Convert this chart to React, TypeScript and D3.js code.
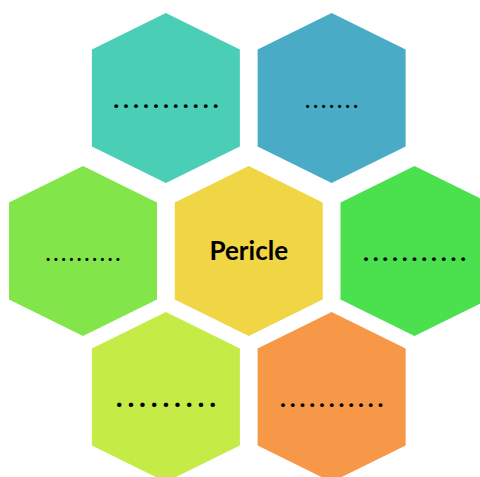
import React from "react";
import * as d3 from "d3";

const labels = ["...........", ".......", "..........", "Pericle", "...........", ".........", "..........."];
const colors = ["#4ACFB6", "#4AABC6", "#82E64A", "#F0D545", "#4AE04E", "#C4EB46", "#F79748"];
const gridCol = [1, 3, 0, 2, 4, 1, 3];
const gridRow = [0, 0, 1, 1, 1, 2, 2];
const dotSizes = [25, 20, 20, 0, 25, 29, 25];
const dotSpacing = [9.9, 7.9, 7.7, 0, 9.67, 11.6, 9.7];

const W = 480;
const H = 477;

export default function App() {
  const x = d3.scaleLinear().domain([0, 4]).range([83, 414.5]);
  const y = d3.scaleOrdinal<number, number>().domain([0, 1, 2]).range([98, 251, 397]);
  const hw = 74;
  const hh = 85;
  const sh = 48.5;
  const hexPts: [number, number][] = [
    [0, -hh],
    [hw, -sh],
    [hw, sh],
    [0, hh],
    [-hw, sh],
    [-hw, -sh],
  ];
  const line = d3.line().curve(d3.curveLinearClosed);
  const hexPath = line(hexPts) || "";

  return (
    <svg
      width={W}
      height={H}
      style={{ position: "absolute", left: 0, top: 0, background: "#fff" }}
    >
      {labels.map((lab, i) => {
        const cx = x(gridCol[i]);
        const cy = y(gridRow[i]);
        const isMain = lab === "Pericle";
        const n = lab.length;
        return (
          <g key={i} transform={`translate(${cx},${cy})`}>
            <path d={hexPath} fill={colors[i]} />
            {isMain ? (
              <text
                x={0}
                y={9}
                textAnchor="middle"
                fontFamily="Lato, 'Open Sans', sans-serif"
                fontWeight={700}
                fontSize={26}
                fill="#000"
              >
                {lab}
              </text>
            ) : (
              <text
                x={0}
                y={9.5}
                textAnchor="middle"
                fontFamily="Lato, 'Open Sans', sans-serif"
                fontWeight={700}
                fontSize={dotSizes[i]}
                textLength={(n - 1) * dotSpacing[i] + dotSizes[i] * 0.26}
                lengthAdjust="spacing"
                fill="#000"
              >
                {lab}
              </text>
            )}
          </g>
        );
      })}
    </svg>
  );
}
